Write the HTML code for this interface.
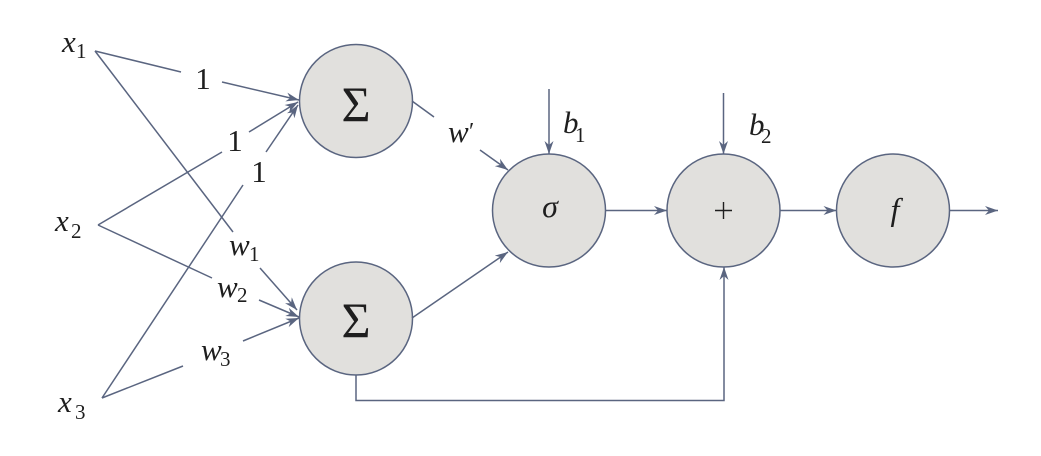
<!DOCTYPE html>
<html>
<head>
<meta charset="utf-8">
<style>
  html,body{margin:0;padding:0;background:#fff;}
  svg{display:block;}
  .ln{stroke:#5a6580;stroke-width:1.5;fill:none;}
  .nd{fill:#e1e0dd;stroke:#5a6580;stroke-width:1.5;}
  text{font-family:"Liberation Serif","DejaVu Serif",serif;fill:#1e1e1e;}
  .it{font-style:italic;font-size:31px;}
  .rm{font-size:31px;}
  .sb{font-size:21px;}
</style>
</head>
<body>
<svg width="1041" height="456" viewBox="0 0 1041 456" xmlns="http://www.w3.org/2000/svg">
  <defs>
    <marker id="ah" markerUnits="userSpaceOnUse" viewBox="-13 -5 13 10" refX="0" refY="0" markerWidth="13" markerHeight="10" orient="auto">
      <path d="M0,0 L-13,-4.5 L-9,0 L-13,4.5 Z" fill="#5a6580"/>
    </marker>
  </defs>

  <!-- nodes -->
  <circle class="nd" cx="356" cy="101" r="56.5"/>
  <circle class="nd" cx="356" cy="318.5" r="56.5"/>
  <circle class="nd" cx="549" cy="210.5" r="56.5"/>
  <circle class="nd" cx="723.5" cy="210.5" r="56.5"/>
  <circle class="nd" cx="893" cy="210.5" r="56.5"/>

  <!-- x1 edges -->
  <line class="ln" x1="95" y1="51" x2="181" y2="72"/>
  <line class="ln" x1="222" y1="82" x2="299" y2="100" marker-end="url(#ah)"/>
  <line class="ln" x1="95" y1="51" x2="233" y2="232"/>
  <line class="ln" x1="260" y1="268" x2="297" y2="310" marker-end="url(#ah)"/>

  <!-- x2 edges -->
  <line class="ln" x1="98" y1="225" x2="222" y2="152"/>
  <line class="ln" x1="249" y1="132" x2="298" y2="102" marker-end="url(#ah)"/>
  <line class="ln" x1="98" y1="225" x2="212" y2="278"/>
  <line class="ln" x1="259" y1="300" x2="299" y2="317" marker-end="url(#ah)"/>

  <!-- x3 edges -->
  <line class="ln" x1="102" y1="398" x2="243" y2="185"/>
  <line class="ln" x1="266" y1="152" x2="298" y2="105" marker-end="url(#ah)"/>
  <line class="ln" x1="102" y1="398" x2="183" y2="366"/>
  <line class="ln" x1="243" y1="341" x2="299" y2="318" marker-end="url(#ah)"/>

  <!-- sum1 -> sigma -->
  <line class="ln" x1="412" y1="101" x2="434" y2="117"/>
  <line class="ln" x1="480" y1="150" x2="508" y2="170" marker-end="url(#ah)"/>
  <!-- sum2 -> sigma -->
  <line class="ln" x1="412" y1="318" x2="508" y2="252" marker-end="url(#ah)"/>

  <!-- biases -->
  <line class="ln" x1="549" y1="89" x2="549" y2="154" marker-end="url(#ah)"/>
  <line class="ln" x1="723.5" y1="93" x2="723.5" y2="154" marker-end="url(#ah)"/>

  <!-- chain -->
  <line class="ln" x1="605.5" y1="210.5" x2="667" y2="210.5" marker-end="url(#ah)"/>
  <line class="ln" x1="780" y1="210.5" x2="836.5" y2="210.5" marker-end="url(#ah)"/>
  <line class="ln" x1="949.5" y1="210.5" x2="998" y2="210.5" marker-end="url(#ah)"/>

  <!-- skip connection -->
  <polyline class="ln" points="356,375 356,400.5 724,400.5 724,267" marker-end="url(#ah)"/>

  <!-- plus sign drawn -->
  <line x1="715" y1="210.5" x2="732" y2="210.5" stroke="#1e1e1e" stroke-width="1.4"/>
  <line x1="723.5" y1="202" x2="723.5" y2="219" stroke="#1e1e1e" stroke-width="1.4"/>

  <g font-family="Liberation Serif, DejaVu Serif, serif">
  <!-- node labels -->
  <text class="rm" x="356" y="121" text-anchor="middle" style="font-size:50px">Σ</text>
  <text class="rm" x="356" y="337" text-anchor="middle" style="font-size:50px">Σ</text>
  <text class="it" x="550" y="217" text-anchor="middle" style="font-size:32px">σ</text>
  <text class="it" x="895" y="220" text-anchor="middle" style="font-size:32px">f</text>

  <!-- inputs -->
  <text class="it" x="62" y="52">x</text><text class="sb" x="76" y="58">1</text>
  <text class="it" x="55" y="231">x</text><text class="sb" x="71" y="238">2</text>
  <text class="it" x="58" y="412">x</text><text class="sb" x="75" y="419">3</text>

  <!-- weights -->
  <text class="rm" x="203" y="89" text-anchor="middle">1</text>
  <text class="rm" x="235" y="151" text-anchor="middle">1</text>
  <text class="rm" x="259" y="182" text-anchor="middle">1</text>

  <text class="it" x="229" y="255">w</text><text class="sb" x="249" y="261">1</text>
  <text class="it" x="217" y="297">w</text><text class="sb" x="237" y="302">2</text>
  <text class="it" x="201" y="360">w</text><text class="sb" x="220" y="366">3</text>

  <text class="it" x="448" y="142">w</text><text class="rm" x="469" y="139" style="font-size:24px">′</text>

  <text class="it" x="563" y="133">b</text><text class="sb" x="575" y="142">1</text>
  <text class="it" x="749" y="135">b</text><text class="sb" x="761" y="143">2</text>
  </g>
</svg>
</body>
</html>
